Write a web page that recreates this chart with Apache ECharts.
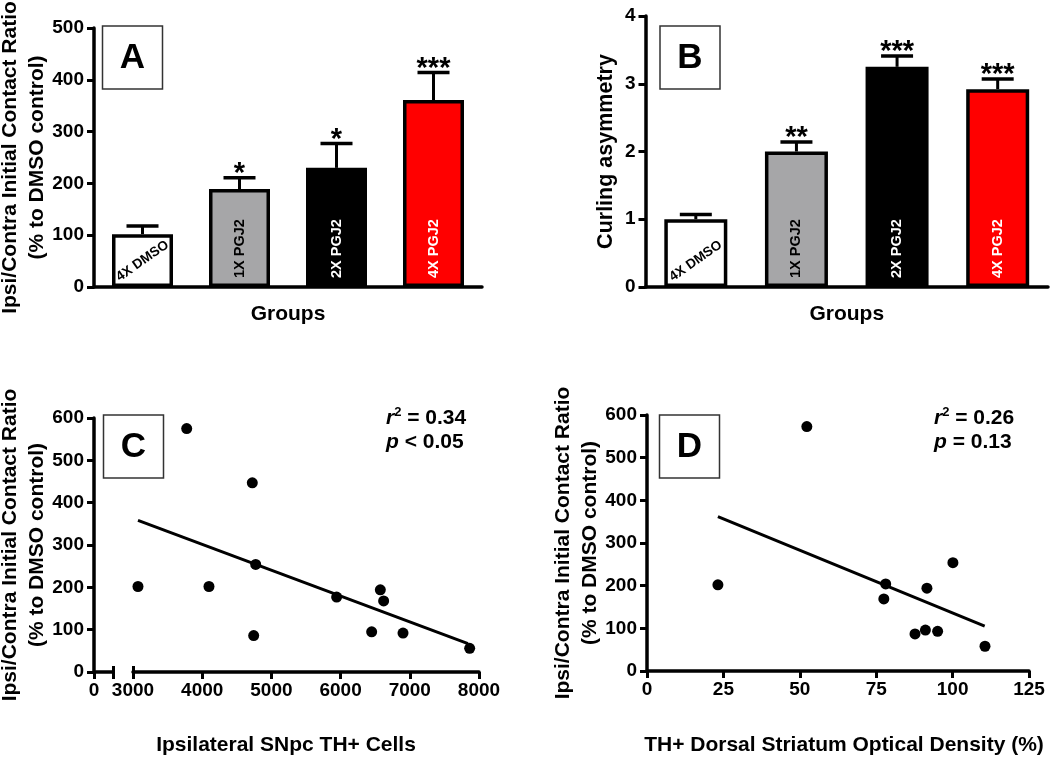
<!DOCTYPE html>
<html><head><meta charset="utf-8">
<script src="https://cdn.jsdelivr.net/npm/echarts@6/dist/echarts.min.js"></script>
<style>html,body{margin:0;padding:0;background:#fff}#c{width:1050px;height:757px}</style>
</head><body><div id="c"></div>
<script>
// ---------- data ----------
const groups = ['4X DMSO', '1X PGJ2', '2X PGJ2', '4X PGJ2'];
const contactMean = [102, 189, 230, 361];
const contactSEM = [16, 22, 47, 53];
const contactStars = ['', '*', '*', '***'];
const curlingMean = [1.0, 2.0, 3.25, 2.92];
const curlingSEM = [0.07, 0.14, 0.16, 0.15];
const curlingStars = ['', '**', '***', '***'];

const snpcCells = [3776, 4724, 4773, 3072, 4098, 5943, 6574, 6622, 4744, 6449, 6902, 7865];
const contactC  = [575, 447, 254, 202, 202, 177, 194, 168, 86, 95, 92, 56];
const trendCx = [3072, 7841];
const trendCy = [358, 67];

const striatumOD = [52.3, 23.2, 78.1, 77.5, 91.6, 100.1, 87.7, 91.1, 95.1, 110.6];
const contactD   = [573, 202, 204, 169, 194, 254, 87, 96, 93, 58];
const trendDx = [23.2, 110.5];
const trendDy = [362, 105];

const statsC = { r2: '0.34', p: '< 0.05' };
const statsD = { r2: '0.26', p: '= 0.13' };

const contactTicks = { min: 0, max: 500, interval: 100 };
const curlingTicks = { min: 0, max: 4, interval: 1 };
const scatterYTicks = { min: 0, max: 600, interval: 100 };
const cellTicks = { min: 3000, max: 8000, interval: 1000 };
const odTicks = { min: 0, max: 125, interval: 25 };

// ---------- styles ----------
const FONT = "'Liberation Sans', Arial, Helvetica, sans-serif";
const barColors = ['#ffffff', '#a6a6a8', '#000000', '#ff0000'];
const labelColors = ['#000000', '#000000', '#ffffff', '#ffffff'];
const yTitle = 'Ipsi/Contra Initial Contact Ratio\n(% to DMSO control)';

const axisLine = { show: true, onZero: false, lineStyle: { color: '#000', width: 3.5 } };
const axisTick = { show: true, length: 7, lineStyle: { color: '#000', width: 3 } };
const tickLabel = { fontFamily: FONT, fontWeight: 'bold', fontSize: 19, color: '#000', formatter: v => String(v) };
const titleStyle = { fontFamily: FONT, fontWeight: 'bold', fontSize: 21, color: '#000', lineHeight: 27 };

function yAx(grid, t, name, gap, fs) {
  return {
    type: 'value', gridIndex: grid, min: t.min, max: t.max, interval: t.interval,
    name: name, nameLocation: 'middle', nameGap: gap, nameRotate: 90, nameMoveOverlap: false,
    nameTextStyle: Object.assign({}, titleStyle, fs ? { fontSize: fs } : {}),
    axisLine: axisLine, axisTick: axisTick,
    axisLabel: Object.assign({}, tickLabel, { margin: 10 }),
    splitLine: { show: false }
  };
}
function catX(grid) {
  return {
    type: 'category', gridIndex: grid, data: groups,
    name: 'Groups', nameLocation: 'middle', nameGap: 14,
    nameTextStyle: titleStyle,
    axisLine: axisLine, axisTick: { show: false }, axisLabel: { show: false },
    splitLine: { show: false }
  };
}
function valX(grid, t, labelExtra) {
  return {
    type: 'value', gridIndex: grid, min: t.min, max: t.max, interval: t.interval,
    axisLine: axisLine, axisTick: axisTick,
    axisLabel: Object.assign({}, tickLabel, { margin: 9, hideOverlap: false }, labelExtra || {}),
    splitLine: { show: false }
  };
}
function breakTickAxis(grid, t, at) {
  return {
    type: 'value', gridIndex: grid, min: t.min, max: t.max, interval: t.interval, position: 'bottom',
    axisLine: { show: false, onZero: false },
    axisTick: { show: true, inside: true, length: 6, customValues: [at], lineStyle: { color: '#000', width: 3 } },
    axisLabel: { show: false }, splitLine: { show: false }
  };
}

function barData(vals) {
  return vals.map((v, i) => ({
    value: v,
    itemStyle: { color: barColors[i], borderColor: '#000', borderWidth: 3.5 },
    label: i === 0 ? {
      show: true, position: 'insideBottom', distance: 26, rotate: 35, align: 'center', verticalAlign: 'middle',
      formatter: '{b}', color: labelColors[i], fontFamily: FONT, fontWeight: 'bold', fontSize: 13.5
    } : {
      show: true, position: 'insideBottom', distance: 9, rotate: 90, align: 'left', verticalAlign: 'middle',
      formatter: '{b}', color: labelColors[i], fontFamily: FONT, fontWeight: 'bold', fontSize: 14.5
    }
  }));
}
function errRender(stars) {
  return function (params, api) {
    const i = api.value(0), m = api.value(1), s = api.value(2);
    const p0 = api.coord([i, m]);
    const p1 = api.coord([i, m + s]);
    const hw = 16;
    return {
      type: 'group', children: [
        { type: 'line', shape: { x1: p0[0], y1: p0[1], x2: p1[0], y2: p1[1] }, style: { stroke: '#000', lineWidth: 3 } },
        { type: 'line', shape: { x1: p1[0] - hw, y1: p1[1], x2: p1[0] + hw, y2: p1[1] }, style: { stroke: '#000', lineWidth: 3.5 } },
        { type: 'text', x: p1[0], y: p1[1] - 4, style: { text: stars[params.dataIndex], align: 'center', verticalAlign: 'middle', fontFamily: FONT, fontWeight: 'bold', fontSize: 29, fill: '#000' } }
      ]
    };
  };
}
function panelBox(letter, x, y) {
  return [
    { type: 'rect', shape: { x: x, y: y, width: 60, height: 63 }, style: { fill: '#fff', stroke: '#333', lineWidth: 1.5 }, z: 10 },
    { type: 'text', x: x + 30, y: y + 32, style: { text: letter, align: 'center', verticalAlign: 'middle', fontFamily: FONT, fontWeight: 'bold', fontSize: 35, fill: '#000' }, z: 11 }
  ];
}
function statText(st, x, y) {
  return {
    type: 'text', x: x, y: y, z: 11,
    style: {
      text: '{i|r}{s|2}{n| = ' + st.r2 + '}\n{i|p}{n| ' + st.p + '}',
      fill: '#000',
      rich: {
        i: { fontFamily: FONT, fontWeight: 'bold', fontStyle: 'italic', fontSize: 21, lineHeight: 24 },
        s: { fontFamily: FONT, fontWeight: 'bold', fontSize: 13, lineHeight: 14, verticalAlign: 'top' },
        n: { fontFamily: FONT, fontWeight: 'bold', fontSize: 21, lineHeight: 24 }
      }
    }
  };
}

const G = { outerBoundsMode: 'none', containLabel: false };
const chart = echarts.init(document.getElementById('c'));
chart.setOption({
  animation: false,
  backgroundColor: '#fff',
  grid: [
    Object.assign({ left: 94, top: 28, width: 388, height: 259 }, G),
    Object.assign({ left: 645.5, top: 16, width: 402.5, height: 271 }, G),
    Object.assign({ left: 94, top: 418, width: 19, height: 254 }, G),
    Object.assign({ left: 133, top: 418, width: 346, height: 254 }, G),
    Object.assign({ left: 647, top: 415, width: 382, height: 256 }, G)
  ],
  xAxis: [
    catX(0),
    catX(1),
    valX(2, { min: 0, max: 1, interval: 1 }, { customValues: [0] }),
    valX(3, cellTicks),
    valX(4, odTicks),
    breakTickAxis(2, { min: 0, max: 1, interval: 1 }, 1),
    breakTickAxis(3, cellTicks, cellTicks.min)
  ],
  yAxis: [
    yAx(0, contactTicks, yTitle, 43),
    yAx(1, curlingTicks, 'Curling asymmetry', 26, 21.5),
    yAx(2, scatterYTicks, yTitle, 43),
    { type: 'value', gridIndex: 3, min: scatterYTicks.min, max: scatterYTicks.max, show: false },
    yAx(4, scatterYTicks, yTitle, 43)
  ],
  series: [
    { type: 'bar', xAxisIndex: 0, yAxisIndex: 0, barWidth: 61, data: barData(contactMean) },
    { type: 'custom', xAxisIndex: 0, yAxisIndex: 0, z: 5, renderItem: errRender(contactStars),
      data: contactMean.map((m, i) => [i, m, contactSEM[i]]) },
    { type: 'bar', xAxisIndex: 1, yAxisIndex: 1, barWidth: 63, data: barData(curlingMean) },
    { type: 'custom', xAxisIndex: 1, yAxisIndex: 1, z: 5, renderItem: errRender(curlingStars),
      data: curlingMean.map((m, i) => [i, m, curlingSEM[i]]) },
    { type: 'line', xAxisIndex: 3, yAxisIndex: 3, showSymbol: false, lineStyle: { color: '#000', width: 3 },
      data: trendCx.map((x, i) => [x, trendCy[i]]) },
    { type: 'scatter', xAxisIndex: 3, yAxisIndex: 3, symbolSize: 11, itemStyle: { color: '#000', opacity: 1 },
      data: snpcCells.map((x, i) => [x, contactC[i]]) },
    { type: 'line', xAxisIndex: 4, yAxisIndex: 4, showSymbol: false, lineStyle: { color: '#000', width: 3 },
      data: trendDx.map((x, i) => [x, trendDy[i]]) },
    { type: 'scatter', xAxisIndex: 4, yAxisIndex: 4, symbolSize: 11, itemStyle: { color: '#000', opacity: 1 },
      data: striatumOD.map((x, i) => [x, contactD[i]]) }
  ],
  graphic: [].concat(
    panelBox('A', 102.5, 26),
    panelBox('B', 660, 26),
    panelBox('C', 103.5, 415),
    panelBox('D', 659.5, 415),
    [
      statText(statsC, 386, 406),
      statText(statsD, 934, 406),
      { type: 'text', x: 286, y: 745, style: { text: 'Ipsilateral SNpc TH+ Cells', align: 'center', verticalAlign: 'middle', fontFamily: FONT, fontWeight: 'bold', fontSize: 21, fill: '#000' } },
      { type: 'text', x: 844, y: 745, style: { text: 'TH+ Dorsal Striatum Optical Density (%)', align: 'center', verticalAlign: 'middle', fontFamily: FONT, fontWeight: 'bold', fontSize: 21, fill: '#000' } }
    ]
  )
});
</script>
</body></html>
